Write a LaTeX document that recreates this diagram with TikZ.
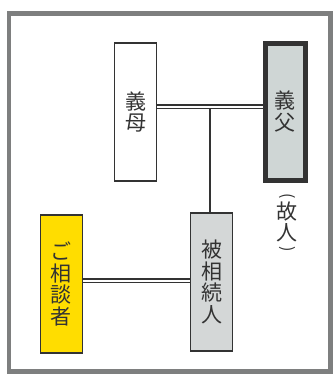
\documentclass[tikz,border=0pt]{standalone}
\usepackage{fontspec}
\usepackage{graphicx}
\newfontfamily\jp{Noto Sans CJK JP}
\definecolor{framegray}{HTML}{7E7F7F}
\definecolor{ink}{HTML}{333333}
\definecolor{deadfill}{HTML}{CFD6D5}
\definecolor{heirfill}{HTML}{D4D7D7}
\definecolor{meyellow}{HTML}{FFDD00}
\tikzset{
  person/.style={draw=ink, line width=1.2pt, minimum width=42pt, minimum height=138pt, inner sep=0pt, font=\jp\fontsize{21}{22}\selectfont, text=ink, align=center},
  marriage/.style={draw=ink, double=white, double distance=2pt, line width=1.1pt},
  child/.style={draw=ink, line width=1.1pt},
  note/.style={inner sep=0pt, text=ink, font=\jp\fontsize{21}{22}\selectfont},
  paren/.style={inner sep=0pt, text=ink, font=\jp\fontsize{16}{16}\selectfont},
}
\begin{document}
\begin{tikzpicture}[x=1pt,y=-1pt]
\useasboundingbox (0,0) rectangle (333,376);
\fill[white] (0,0) rectangle (333,376);
\draw[framegray, line width=5pt] (9,13) rectangle (330,371);
\node[person, fill=white] (mother) at (135.5,112) {義\\[-0.5pt]母};
\node[person, fill=deadfill, line width=5pt, minimum width=40pt, minimum height=137pt] (father) at (285.5,111.5) {義\\[-0.5pt]父};
\node[person, fill=heirfill] (heir) at (211.5,282) {被\\[-0.5pt]相\\[-0.5pt]続\\[-0.5pt]人};
\node[person, fill=meyellow] (me) at (61.5,284) {ご\\[-0.5pt]相\\[-0.5pt]談\\[-0.5pt]者};
\node[paren] (lateopen) at (287,196) {\rotatebox{-90}{(}};
\node[note] (late1) at (287,212) {故};
\node[note] (late2) at (287,233) {人};
\node[paren] (lateclose) at (287,249) {\rotatebox{-90}{)}};
\draw[marriage] (mother.east |- 0,106.5) -- (father.west |- 0,106.5);
\coordinate (drop) at (210,108);
\draw[child] (drop) -- (drop |- heir.north);
\draw[marriage] (me.east |- 0,280.5) -- (heir.west |- 0,280.5);
\end{tikzpicture}
\end{document}
